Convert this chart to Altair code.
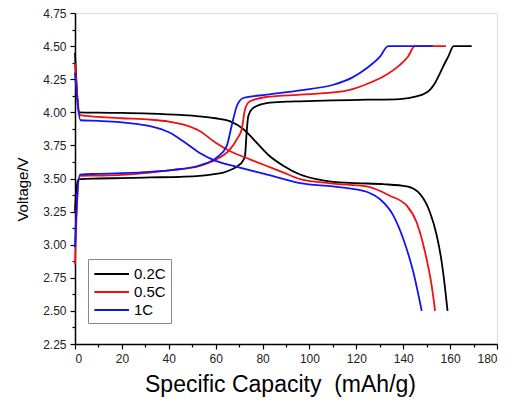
import altair as alt
import pandas as pd

# ---- data ----
series_names = ["0.2C", "0.5C", "1C"]
series_colors = ["#000000", "#f01010", "#1414f0"]

# discharge curves
dis_02_cap = [0, 1.8, 10, 20, 32, 45, 53, 60, 66, 72, 77.5, 83, 89, 96, 103, 110, 120, 131.5, 141.5, 147.2, 151.4, 154.3, 156.4, 157.8, 158.9]
dis_02_v = [4.45, 4.0, 3.997, 3.995, 3.99, 3.98, 3.97, 3.955, 3.933, 3.87, 3.77, 3.67, 3.595, 3.53, 3.495, 3.475, 3.465, 3.457, 3.44, 3.382, 3.245, 3.07, 2.87, 2.68, 2.5]

dis_05_cap = [0, 2.2, 10, 20, 32, 40, 46, 53, 60, 66, 74.6, 81, 89, 96, 110, 124.4, 134.3, 141.5, 145.7, 149.3, 152.1, 153.6]
dis_05_v = [4.37, 3.978, 3.965, 3.955, 3.945, 3.93, 3.908, 3.86, 3.77, 3.708, 3.645, 3.6, 3.545, 3.495, 3.462, 3.44, 3.37, 3.295, 3.17, 2.945, 2.694, 2.5]

dis_1_cap = [0, 2.4, 10, 19, 27, 32, 40.5, 46, 53, 60, 67.5, 74, 82, 96, 110, 117, 124.4, 130, 135.8, 140, 144.3, 147.9]
dis_1_v = [4.30, 3.94, 3.935, 3.926, 3.91, 3.896, 3.845, 3.783, 3.695, 3.633, 3.595, 3.565, 3.53, 3.465, 3.44, 3.425, 3.40, 3.345, 3.22, 3.045, 2.794, 2.5]

# charge curves
chg_02_cap = [0, 0.5, 1.5, 10, 20, 32, 45, 53, 58, 63.3, 67, 69.5, 71.5, 72.5, 73.2, 73.9, 76, 81.8, 90, 96, 110, 125, 138.6, 145.7, 149, 151.4, 153.5, 155.7, 158, 159.2, 161.5, 169.2]
chg_02_v = [3.25, 3.4, 3.495, 3.50, 3.503, 3.508, 3.513, 3.52, 3.53, 3.545, 3.57, 3.595, 3.63, 3.67, 3.845, 3.97, 4.033, 4.07, 4.08, 4.083, 4.09, 4.095, 4.10, 4.12, 4.14, 4.17, 4.22, 4.296, 4.38, 4.42, 4.5, 4.5]

chg_05_cap = [0, 0.6, 2.1, 10, 20, 32, 42, 53.3, 60.4, 66.1, 69, 71.1, 72.5, 74.6, 81.8, 96, 110, 117.3, 124, 131.5, 138.6, 142, 145, 158.2]
chg_05_v = [2.85, 3.2, 3.52, 3.522, 3.527, 3.545, 3.565, 3.595, 3.645, 3.72, 3.795, 3.87, 4.02, 4.083, 4.116, 4.133, 4.15, 4.17, 4.21, 4.27, 4.358, 4.42, 4.5, 4.5]

chg_1_cap = [0, 0.6, 2.1, 10, 20, 32, 42, 53.3, 60.4, 64.7, 66.8, 69, 71.8, 81.8, 96, 110.2, 118, 124.4, 130.1, 133.6, 152.6]
chg_1_v = [2.98, 3.25, 3.53, 3.535, 3.54, 3.55, 3.565, 3.60, 3.658, 3.745, 3.896, 4.046, 4.108, 4.133, 4.166, 4.208, 4.26, 4.333, 4.42, 4.5, 4.5]

x_ticks = [0, 10, 20, 30, 40, 50, 60, 70, 80, 90, 100, 110, 120, 130, 140, 150, 160, 170, 180]
y_ticks = [2.25, 2.375, 2.5, 2.625, 2.75, 2.875, 3.0, 3.125, 3.25, 3.375, 3.5, 3.625,
           3.75, 3.875, 4.0, 4.125, 4.25, 4.375, 4.5, 4.625, 4.75]

# ---- build table ----
curves = [
    ("0.2C", "discharge", dis_02_cap, dis_02_v),
    ("0.2C", "charge", chg_02_cap, chg_02_v),
    ("0.5C", "discharge", dis_05_cap, dis_05_v),
    ("0.5C", "charge", chg_05_cap, chg_05_v),
    ("1C", "discharge", dis_1_cap, dis_1_v),
    ("1C", "charge", chg_1_cap, chg_1_v),
]
rows = []
for name, seg, caps, vs in curves:
    for i, (c, v) in enumerate(zip(caps, vs)):
        rows.append({"series": name, "seg": name + "-" + seg, "i": i, "cap": c, "v": v})
df = pd.DataFrame(rows)

FONT = "Liberation Sans"
PLOT_W = 422
PLOT_H = 331

x_enc = alt.X(
    "cap:Q",
    scale=alt.Scale(domain=[0, 180], nice=False, zero=False),
    axis=alt.Axis(
        title="Specific Capacity\u00a0\u00a0(mAh/g)",
        values=x_ticks,
        labelExpr="datum.value % 20 == 0 ? datum.label : ''",
        tickSize={"condition": {"test": "datum.value % 20 == 0", "value": 5}, "value": 3},
        grid=False,
        labelFontSize=12,
        labelColor="#222222",
        labelPadding=4,
        titleFontSize=23,
        titleFontWeight="normal",
        titleColor="#000000",
        titleBaseline="middle",
        titleY=40,
        titleX=205,
        domainColor="#000000",
        domainWidth=1.5,
        tickColor="#000000",
        tickWidth=1.2,
    ),
)
y_enc = alt.Y(
    "v:Q",
    scale=alt.Scale(domain=[2.25, 4.75], nice=False, zero=False),
    axis=alt.Axis(
        title="Voltage/V",
        values=y_ticks,
        labelExpr="abs(datum.value*4 - round(datum.value*4)) < 0.001 ? format(datum.value, '.2f') : ''",
        tickSize={"condition": {"test": "abs(datum.value*4 - round(datum.value*4)) < 0.001", "value": 5}, "value": 3},
        grid=False,
        labelFontSize=12,
        labelColor="#222222",
        labelPadding=4,
        titleFontSize=15,
        titleFontWeight="normal",
        titleColor="#000000",
        titleBaseline="middle",
        titleX=-53,
        titleY=176,
        domainColor="#000000",
        domainWidth=1.5,
        tickColor="#000000",
        tickWidth=1.2,
    ),
)
color_enc = alt.Color(
    "series:N",
    scale=alt.Scale(domain=series_names, range=series_colors),
    legend=alt.Legend(
        title=None,
        orient="none",
        legendX=13,
        legendY=246,
        symbolType="M-1,0H3",
        symbolSize=300,
        symbolStrokeWidth=2,
        labelFontSize=15,
        labelColor="#000000",
        labelOffset=21,
        rowPadding=0,
        padding=5,
        strokeColor="#888888",
        fillColor="#ffffff",
    ),
)

layers = []
for name in series_names:
    layers.append(
        alt.Chart(df)
        .transform_filter(alt.datum.series == name)
        .mark_line(strokeWidth=1.8, interpolate="monotone")
        .encode(x=x_enc, y=y_enc, color=color_enc, detail="seg:N", order="i:Q")
    )

chart = (
    alt.layer(*layers)
    .properties(
        width=PLOT_W,
        height=PLOT_H,
        autosize=alt.AutoSizeParams(type="none"),
        padding={"left": 67, "top": 5, "right": 15, "bottom": 58},
        background="#ffffff",
    )
    .configure_view(stroke="#333333", strokeWidth=1.5)
    .configure(font=FONT)
)

chart.save("out.html", embed_options={"renderer": "svg", "actions": False})
